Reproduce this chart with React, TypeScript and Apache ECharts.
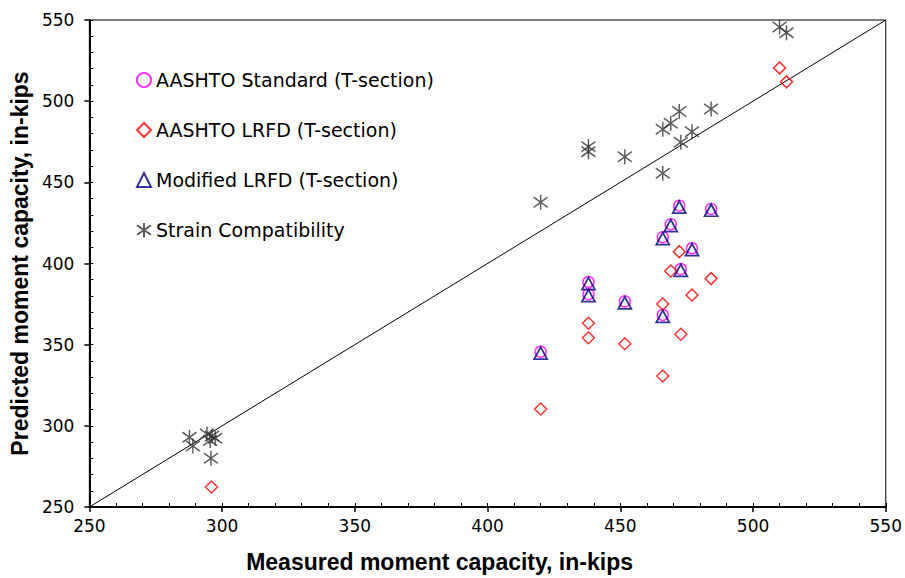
import React, { useEffect, useRef } from "react";
import * as echarts from "echarts";

const xTicks = [250, 300, 350, 400, 450, 500, 550];
const yTicks = [250, 300, 350, 400, 450, 500, 550];

const seriesNames = [
  "AASHTO Standard (T-section)",
  "AASHTO LRFD (T-section)",
  "Modified LRFD (T-section)",
  "Strain Compatibility",
];

// AASHTO Standard (T-section): [measured, predicted]
const standardPts: number[][] = [
  [420, 345.7], [438, 388.6], [438, 381.1], [451.7, 376.7], [466, 416.2],
  [466, 368.3], [469, 424.2], [472.2, 435.6], [472.8, 396.6], [477, 409.4],
  [484.2, 433.6],
];

// AASHTO LRFD (T-section)
const lrfdPts: number[][] = [
  [296, 262.3], [420, 310.4], [438, 363.2], [438, 354.3], [451.7, 350.6],
  [466, 375.1], [466, 330.7], [469, 395.4], [472.2, 407.3], [472.8, 356.4],
  [477, 380.6], [484.2, 390.7], [510, 520.5], [512.6, 511.9],
];

// Modified LRFD (T-section)
const modifiedPts: number[][] = [
  [420, 344.8], [438, 387.6], [438, 380.2], [451.7, 375.8], [466, 415.3],
  [466, 367.4], [469, 423.3], [472.2, 434.7], [472.8, 395.7], [477, 408.5],
  [484.2, 432.8],
];

// Strain Compatibility
const strainPts: number[][] = [
  [287.7, 292.9], [289, 287.6], [294.3, 295], [296.2, 293.7], [295.5, 290.9],
  [297.4, 292.3], [295.8, 280], [420, 437.7], [438, 472], [438, 468.9],
  [451.7, 465.8], [466, 482.7], [466, 455.6], [469, 486.4], [472.2, 493.6],
  [472.8, 474.7], [477, 481.2], [484.2, 495.2], [510, 545.7], [512.6, 542.2],
];

const equalityLine: number[][] = [[250, 250], [550, 550]];

const STAR = "path://M5,0L5,10M0,1.6L10,8.4M0,8.4L10,1.6";

export default function App() {
  const ref = useRef<HTMLDivElement>(null);
  useEffect(() => {
    if (!ref.current) return;
    const chart = echarts.init(ref.current, null, { renderer: "svg" });
    const labelFont = { fontFamily: "DejaVu Sans", fontSize: 17, color: "#000" };
    const titleFont = {
      fontFamily: "Liberation Sans",
      fontSize: 23,
      fontWeight: "bold" as const,
      color: "#000",
    };
    const minX = xTicks[0], maxX = xTicks[xTicks.length - 1];
    const minY = yTicks[0], maxY = yTicks[yTicks.length - 1];
    chart.setOption({
      animation: false,
      backgroundColor: "#fff",
      grid: {
        left: 89, right: 18, top: 20, bottom: 71,
        show: true, borderColor: "#000", borderWidth: 1, backgroundColor: "transparent",
      },
      legend: {
        orient: "vertical",
        left: 131,
        top: 65,
        itemWidth: 14,
        itemHeight: 14,
        itemGap: 30,
        textStyle: { fontFamily: "DejaVu Sans", fontSize: 19, color: "#000", lineHeight: 20 },
        data: seriesNames,
      },
      xAxis: [
        {
          type: "value", min: minX, max: maxX, interval: 50,
          name: "Measured moment capacity, in-kips",
          nameLocation: "middle", nameGap: 43,
          nameTextStyle: { ...titleFont, padding: [0, 96, 0, 0] },
          axisLine: { show: true, lineStyle: { color: "#000", width: 2 } },
          axisTick: { show: true, inside: false, length: 5, lineStyle: { color: "#000", width: 1.5 } },
          axisLabel: { ...labelFont, margin: 10 },
          splitLine: { show: false },
        },
        {
          type: "value", min: minX, max: maxX, interval: 10, position: "bottom",
          axisLine: { show: false },
          axisTick: { show: true, inside: true, length: 4, lineStyle: { color: "#000", width: 1 } },
          axisLabel: { show: false },
          splitLine: { show: false },
        },
      ],
      yAxis: [
        {
          type: "value", min: minY, max: maxY, interval: 50,
          name: "Predicted moment capacity, in-kips",
          nameLocation: "middle", nameGap: 52, nameTextStyle: titleFont,
          axisLine: { show: true, lineStyle: { color: "#000", width: 2 } },
          axisTick: { show: true, inside: false, length: 5, lineStyle: { color: "#000", width: 1.5 } },
          axisLabel: { ...labelFont, margin: 15 },
          splitLine: { show: false },
        },
        {
          type: "value", min: minY, max: maxY, interval: 10, position: "left",
          axisLine: { show: false },
          axisTick: { show: true, inside: true, length: 4, lineStyle: { color: "#000", width: 1 } },
          axisLabel: { show: false },
          splitLine: { show: false },
        },
      ],
      series: [
        {
          type: "line", data: equalityLine, symbol: "none", silent: true,
          lineStyle: { color: "#000", width: 1 }, z: 1,
        },
        {
          name: seriesNames[0], type: "scatter", data: standardPts,
          symbol: "circle", symbolSize: 11,
          itemStyle: { color: "rgba(0,0,0,0)", borderColor: "#ff00ff", borderWidth: 1.5 },
          z: 2,
        },
        {
          name: seriesNames[1], type: "scatter", data: lrfdPts,
          symbol: "diamond", symbolSize: 12,
          itemStyle: { color: "rgba(0,0,0,0)", borderColor: "#ff0000", borderWidth: 1.5 },
          z: 3,
        },
        {
          name: seriesNames[2], type: "scatter", data: modifiedPts,
          symbol: "triangle", symbolSize: [13, 12],
          itemStyle: { color: "rgba(0,0,0,0)", borderColor: "#000080", borderWidth: 1.8 },
          z: 4,
        },
        {
          name: seriesNames[3], type: "scatter", data: strainPts,
          symbol: STAR, symbolSize: [14, 15],
          itemStyle: { color: "rgba(0,0,0,0)", borderColor: "#333333", borderWidth: 1.5 },
          z: 5,
        },
      ],
    });
    return () => chart.dispose();
  }, []);
  return <div ref={ref} style={{ width: 905, height: 578, position: "absolute", left: 0, top: 0 }} />;
}
